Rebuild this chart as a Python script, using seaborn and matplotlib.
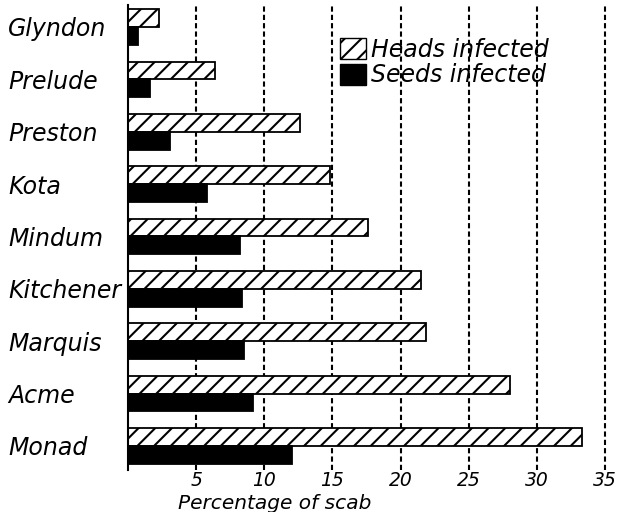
import matplotlib
matplotlib.use("Agg")
import matplotlib.pyplot as plt
from matplotlib.patches import Patch
import seaborn as sns
import pandas as pd

varieties = ["Glyndon", "Prelude", "Preston", "Kota", "Mindum", "Kitchener", "Marquis", "Acme", "Monad"]
heads_infected = [2.3, 6.4, 12.6, 14.8, 17.6, 21.5, 21.9, 28.0, 33.3]
seeds_infected = [0.7, 1.6, 3.1, 5.8, 8.2, 8.4, 8.5, 9.2, 12.0]
series_names = ["Heads infected", "Seeds infected"]
xticks = [5, 10, 15, 20, 25, 30, 35]

df = pd.DataFrame({
    "variety": varieties * 2,
    "measure": [series_names[0]] * len(varieties) + [series_names[1]] * len(varieties),
    "value": heads_infected + seeds_infected,
})

sns.set_theme(style="white")
plt.rcParams["font.family"] = ["DejaVu Sans"]
plt.rcParams["hatch.linewidth"] = 1.5
plt.rcParams["hatch.color"] = "black"
for k in ["text.color", "axes.labelcolor", "xtick.color", "ytick.color"]:
    plt.rcParams[k] = "black"

fig = plt.figure(figsize=(6.35, 5.12), dpi=100)
ax = fig.add_axes([128 / 635, 1 - 470 / 512, (630 - 128) / 635, 465 / 512])

sns.barplot(data=df, y="variety", x="value", hue="measure", orient="h",
            palette=["white", "black"], edgecolor="black", linewidth=1.3,
            width=0.68, gap=0, dodge=True, legend=False, ax=ax, saturation=1)

for bar in ax.containers[0]:
    bar.set_hatch("//")
    bar.set_zorder(3)
for bar in ax.containers[1]:
    bar.set_zorder(3)

ax.set_xlim(0, 502 / 13.63)
ax.set_ylim(8.46, -0.42)
ax.set_xticks(xticks)
ax.set_xticklabels([str(t) for t in xticks], fontsize=13.5, style="italic")
ax.set_yticks(range(len(varieties)))
ax.set_yticklabels(varieties, fontsize=17, style="italic", ha="left")
ax.tick_params(axis="both", length=0)
ax.tick_params(axis="y", pad=(128 - 8) * 0.72)
ax.tick_params(axis="x", pad=1)

ax.xaxis.grid(True, linestyle=(0, (2.5, 1.5)), color="black", linewidth=1.5, zorder=1)
ax.yaxis.grid(False)
ax.set_axisbelow(True)

for s in ["top", "right", "bottom"]:
    ax.spines[s].set_visible(False)
ax.spines["left"].set_color("black")
ax.spines["left"].set_linewidth(1.5)
ax.spines["left"].set_zorder(4)

ax.set_ylabel("")
ax.set_xlabel("Percentage of scab", fontsize=14.5, style="italic")
ax.xaxis.set_label_coords((275 - 128) / 502, -0.051)

handles = [Patch(facecolor="white", edgecolor="black", hatch="//", label=series_names[0]),
           Patch(facecolor="black", edgecolor="black", label=series_names[1])]
leg = ax.legend(handles=handles, loc="upper left", bbox_to_anchor=((340 - 128) / 502, 1 - 33 / 465),
                frameon=False, fontsize=17, handlelength=1.1, handleheight=1.0,
                handletextpad=0.2, labelspacing=0.05, borderaxespad=0, borderpad=0)
for t in leg.get_texts():
    t.set_style("italic")

fig.savefig("out.png", dpi=100)
